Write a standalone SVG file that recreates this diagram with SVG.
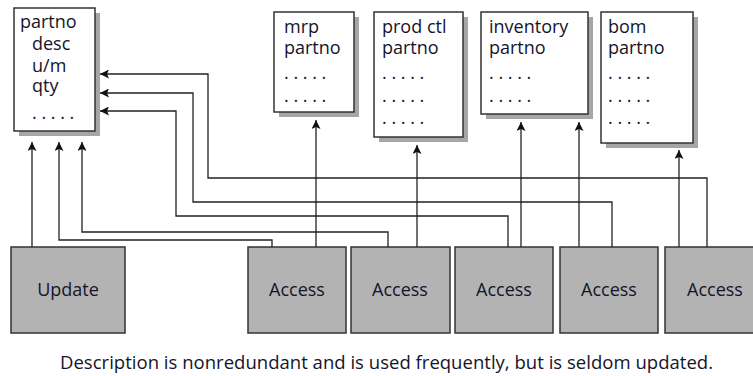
<svg xmlns="http://www.w3.org/2000/svg" width="753" height="376" viewBox="0 0 753 376">
<style>
.bg{fill:#fff}
.shadow{fill:#a6a6a6}
.rec{fill:#fff;stroke:#333;stroke-width:1.5}
.proc{fill:#b3b3b3;stroke:#333;stroke-width:1.5}
.t{font-family:"Open Sans","Liberation Sans",sans-serif;font-size:18px;fill:#14142b}
.c{text-anchor:middle}
.cap{font-size:18.5px}
.conn path{fill:none;stroke:#222;stroke-width:1.3}
</style>
<defs>
<marker id="ah" markerUnits="userSpaceOnUse" markerWidth="10" markerHeight="9" refX="9" refY="4.5" orient="auto">
<path d="M0,0 L9,4.5 L0,9 L2,4.5 z" fill="#111"/>
</marker>
</defs>
<rect class="bg" x="0" y="0" width="753" height="376"/>

<g id="desc-record">
<rect class="shadow" x="19" y="13" width="81" height="123"/>
<rect class="rec" x="14" y="8" width="81" height="123"/>
<text class="t" x="20" y="28">partno</text>
<text class="t" x="32" y="50">desc</text>
<text class="t" x="32" y="72">u/m</text>
<text class="t" x="32" y="92">qty</text>
<text class="t" x="32" y="119">. . . . .</text>
</g>

<g id="mrp">
<rect class="shadow" x="279" y="17" width="80" height="100"/>
<rect class="rec" x="274" y="12" width="80" height="100"/>
<text class="t" x="284" y="33">mrp</text>
<text class="t" x="284" y="54">partno</text>
<text class="t" x="284" y="79">. . . . .</text>
<text class="t" x="284" y="102">. . . . .</text>
</g>

<g id="prodctl">
<rect class="shadow" x="379" y="17" width="89" height="125"/>
<rect class="rec" x="374" y="12" width="89" height="125"/>
<text class="t" x="382" y="33">prod ctl</text>
<text class="t" x="382" y="54">partno</text>
<text class="t" x="382" y="79">. . . . .</text>
<text class="t" x="382" y="102">. . . . .</text>
<text class="t" x="382" y="124">. . . . .</text>
</g>

<g id="inventory">
<rect class="shadow" x="486" y="17" width="107" height="102"/>
<rect class="rec" x="481" y="12" width="107" height="102"/>
<text class="t" x="489" y="33">inventory</text>
<text class="t" x="489" y="54">partno</text>
<text class="t" x="489" y="79">. . . . .</text>
<text class="t" x="489" y="102">. . . . .</text>
</g>

<g id="bom">
<rect class="shadow" x="606" y="17" width="92" height="131"/>
<rect class="rec" x="601" y="12" width="92" height="131"/>
<text class="t" x="608" y="33">bom</text>
<text class="t" x="608" y="54">partno</text>
<text class="t" x="608" y="79">. . . . .</text>
<text class="t" x="608" y="102">. . . . .</text>
<text class="t" x="608" y="124">. . . . .</text>
</g>

<g id="update">
<rect class="proc" x="11" y="247" width="114" height="86"/>
<text class="t c" x="68" y="296">Update</text>
</g>
<g id="access1">
<rect class="proc" x="248" y="247" width="98" height="86"/>
<text class="t c" x="297" y="296">Access</text>
</g>
<g id="access2">
<rect class="proc" x="351" y="247" width="99" height="86"/>
<text class="t c" x="400" y="296">Access</text>
</g>
<g id="access3">
<rect class="proc" x="455" y="247" width="98" height="86"/>
<text class="t c" x="504" y="296">Access</text>
</g>
<g id="access4">
<rect class="proc" x="560" y="247" width="98" height="86"/>
<text class="t c" x="609" y="296">Access</text>
</g>
<g id="access5">
<rect class="proc" x="665" y="247" width="100" height="86"/>
<text class="t c" x="715" y="296">Access</text>
</g>

<g id="connectors" class="conn">
<path d="M32,247 V142" marker-end="url(#ah)"/>
<path d="M272,247 V240 H59 V142" marker-end="url(#ah)"/>
<path d="M316,247 V120" marker-end="url(#ah)"/>
<path d="M388,247 V232 H82 V142" marker-end="url(#ah)"/>
<path d="M417,247 V145" marker-end="url(#ah)"/>
<path d="M508,247 V216 H176 V111 H100" marker-end="url(#ah)"/>
<path d="M521,247 V122" marker-end="url(#ah)"/>
<path d="M579,247 V122" marker-end="url(#ah)"/>
<path d="M612,247 V202 H193 V93 H100" marker-end="url(#ah)"/>
<path d="M679,247 V150" marker-end="url(#ah)"/>
<path d="M707,247 V178 H208 V74 H100" marker-end="url(#ah)"/>
</g>

<text class="t cap" x="60" y="369" textLength="653" lengthAdjust="spacing">Description is nonredundant and is used frequently, but is seldom updated.</text>
</svg>
